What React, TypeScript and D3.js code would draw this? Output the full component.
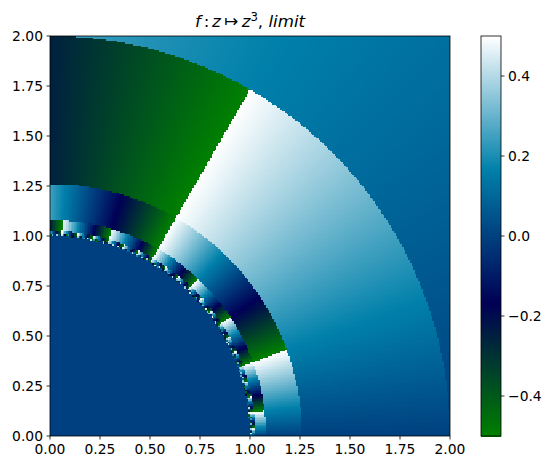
import React, { useMemo } from "react";
import * as d3 from "d3";

// Picture-read parameters. The field is a fine grid that cannot be read cell by cell,
// so it is described by what the picture shows: nested rings, each with a constant
// number of colour cycles per full turn, and a flat inner disk.
const ringOuterRadii = [Infinity, 2, 1.26, 1.08, 1.026, 1.0086, 1.0029, 1.00095, 1.00032];
const ringInnerRadii = [2, 1.26, 1.08, 1.026, 1.0086, 1.0029, 1.00095, 1.00032, 1];
const ringCyclesPerTurn = [1, 3, 9, 27, 81, 243, 729, 2187, 6561];
const innerDiskValue = 0;
const gridCells = 250;
const axisTicks = [0, 0.25, 0.5, 0.75, 1, 1.25, 1.5, 1.75, 2];
const colorbarTicks = [-0.4, -0.2, 0, 0.2, 0.4];
const colorStops = [-0.5, -1 / 6, 1 / 6, 0.5];
const colorStopColors = ["rgb(0,128,0)", "rgb(0,0,85)", "rgb(0,128,170)", "rgb(255,255,255)"];

const FONT = "'DejaVu Sans'";
const L = 50, R = 450, T = 36, B = 436, CL = 481, CR = 501;

const x = d3.scaleLinear().domain([0, 2]).range([L, R]);
const y = d3.scaleLinear().domain([0, 2]).range([B, T]);
const cb = d3.scaleLinear().domain([-0.5, 0.5]).range([B, T]);
const color = d3.scaleLinear<string>().domain(colorStops).range(colorStopColors).interpolate(d3.interpolateRgb);
const cellValue = d3.scaleLinear().domain([-0.5, gridCells - 0.5]).range([0, 2]);

function valueAt(a: number, b: number): number {
  const r = Math.hypot(a, b);
  if (r < 1) return innerDiskValue;
  const k = ringInnerRadii.findIndex((inner, i) => r >= inner && r < ringOuterRadii[i]);
  const t = (ringCyclesPerTurn[k] * Math.atan2(b, a)) / (2 * Math.PI) + 0.5;
  return t - Math.floor(t) - 0.5;
}

function fieldImage(): string {
  const canvas = document.createElement("canvas");
  canvas.width = gridCells;
  canvas.height = gridCells;
  const ctx = canvas.getContext("2d")!;
  const img = ctx.createImageData(gridCells, gridCells);
  for (let j = 0; j < gridCells; j++) {
    for (let i = 0; i < gridCells; i++) {
      const c = d3.rgb(color(valueAt(cellValue(i), cellValue(j))));
      const p = ((gridCells - 1 - j) * gridCells + i) * 4;
      img.data[p] = c.r;
      img.data[p + 1] = c.g;
      img.data[p + 2] = c.b;
      img.data[p + 3] = 255;
    }
  }
  ctx.putImageData(img, 0, 0);
  return canvas.toDataURL();
}

const barLevels = d3.range(256);
const barStep = (B - T) / 256;

export default function App() {
  const href = useMemo(fieldImage, []);
  const fmt2 = d3.format(".2f");
  const fmtBar = d3.format(".1f");
  return (
    <svg width={554} height={470} style={{ position: "absolute", left: 0, top: 0 }} fontFamily={FONT}>
      <rect width={554} height={470} fill="#fff" />
      <image href={href} x={L} y={T} width={R - L} height={B - T} style={{ imageRendering: "pixelated" }} />
      <rect x={L} y={T} width={R - L} height={B - T} fill="none" stroke="#000" strokeWidth={0.8} />
      {axisTicks.map((t) => (
        <g key={`x${t}`}>
          <line x1={x(t)} x2={x(t)} y1={B} y2={B + 3.5} stroke="#000" strokeWidth={0.8} />
          <text x={x(t)} y={B + 18} textAnchor="middle" fontSize={13.89} fill="#000">{fmt2(t)}</text>
        </g>
      ))}
      {axisTicks.map((t) => (
        <g key={`y${t}`}>
          <line x1={L - 3.5} x2={L} y1={y(t)} y2={y(t)} stroke="#000" strokeWidth={0.8} />
          <text x={L - 7} y={y(t) + 5} textAnchor="end" fontSize={13.89} fill="#000">{fmt2(t)}</text>
        </g>
      ))}
      <text x={250} y={27} textAnchor="middle" fontSize={16.67} fill="#000" fontStyle="italic">
        <tspan>f</tspan>
        <tspan fontStyle="normal" dx={3}>:</tspan>
        <tspan dx={2.5}>z</tspan>
        <tspan fontStyle="normal" dx={3.5}>↦</tspan>
        <tspan dx={3.5}>z</tspan>
        <tspan fontStyle="normal" fontSize={11.7} dy={-6}>3</tspan>
        <tspan fontStyle="normal" dy={6}>, </tspan>
        <tspan>limit</tspan>
      </text>
      <g shapeRendering="crispEdges">
        {barLevels.map((n) => (
          <rect
            key={n}
            x={CL}
            y={B - (n + 1) * barStep}
            width={CR - CL}
            height={barStep + 0.5}
            fill={color(-0.5 + (n + 0.5) / 256)}
          />
        ))}
      </g>
      <rect x={CL} y={T} width={CR - CL} height={B - T} fill="none" stroke="#000" strokeWidth={0.8} />
      {colorbarTicks.map((t) => (
        <g key={`c${t}`}>
          <line x1={CR} x2={CR + 3.5} y1={cb(t)} y2={cb(t)} stroke="#000" strokeWidth={0.8} />
          <text x={CR + 7} y={cb(t) + 5} fontSize={13.89} fill="#000">{fmtBar(t).replace("-", "\u2212")}</text>
        </g>
      ))}
    </svg>
  );
}
